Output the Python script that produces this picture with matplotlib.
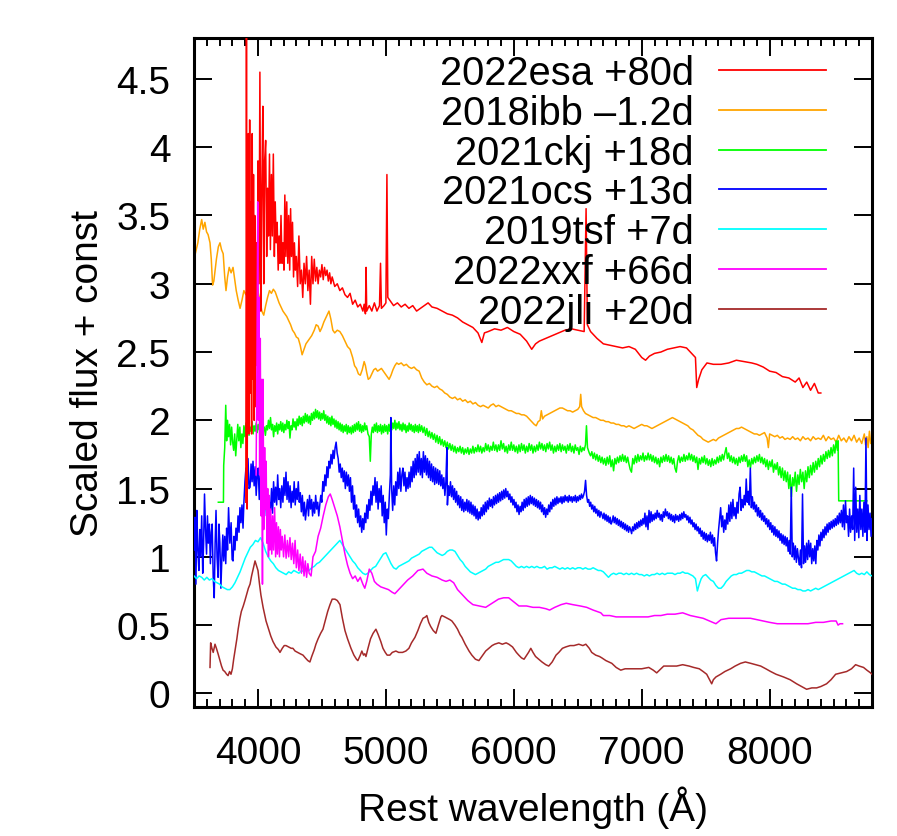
import numpy as np
import matplotlib
matplotlib.use("Agg")
import matplotlib.pyplot as plt
from matplotlib.ticker import MultipleLocator, FuncFormatter

# ---- spectra (rest wavelength in A, scaled flux + const) ----

esa_wl = [3905, 3910, 3915, 3920, 3925, 3930, 3935, 3940, 3945, 3950, 3955, 3960, 3965, 3970, 3975,
          3980, 3985, 3990, 3995, 4000, 4008, 4015, 4022, 4030, 4038, 4045, 4052, 4060, 4068, 4075,
          4082, 4090, 4097, 4105, 4112, 4120, 4128, 4135, 4142, 4150, 4158, 4165, 4172, 4180, 4188,
          4195, 4203, 4210, 4218, 4225, 4233, 4240, 4248, 4255, 4262, 4270, 4278, 4285, 4292, 4300,
          4310, 4320, 4330, 4340, 4350, 4360, 4370, 4380, 4390, 4400, 4410, 4420, 4430, 4440, 4450,
          4460, 4470, 4480, 4490, 4500, 4510, 4520, 4530, 4540, 4550, 4560, 4570, 4580, 4600, 4620,
          4640, 4660, 4680, 4700, 4720, 4740, 4760, 4780, 4800, 4820, 4830, 4840, 4845, 4850, 4870,
          4890, 4910, 4930, 4950, 4958, 4965, 4985, 5000, 5008, 5015, 5030, 5060, 5090, 5120, 5150,
          5180, 5210, 5240, 5270, 5300, 5330, 5360, 5400, 5440, 5480, 5520, 5560, 5600, 5640, 5680,
          5720, 5750, 5770, 5800, 5850, 5900, 5950, 6000, 6050, 6100, 6140, 6170, 6200, 6250, 6300,
          6350, 6400, 6450, 6500, 6550, 6565, 6575, 6600, 6650, 6700, 6750, 6800, 6850, 6900, 6950,
          7000, 7030, 7060, 7100, 7150, 7200, 7250, 7300, 7350, 7400, 7420, 7430, 7445, 7470, 7510,
          7560, 7620, 7680, 7740, 7800, 7860, 7900, 7950, 8000, 8050, 8100, 8150, 8200, 8230, 8260,
          8290, 8320, 8350, 8380, 8400]
esa_fx = [1.40, 4.90, 1.35, 3.00, 4.10, 1.90, 4.20, 2.20, 3.60, 1.90, 4.10, 2.30, 3.80, 2.00, 3.50,
          2.10, 2.90, 3.30, 2.40, 3.90, 3.00, 4.55, 2.80, 3.70, 4.30, 3.00, 3.90, 4.05, 3.20, 3.70,
          3.35, 3.95, 3.25, 3.80, 3.35, 3.95, 3.20, 3.60, 3.30, 3.45, 3.10, 3.35, 3.15, 3.50, 3.15,
          3.30, 3.10, 3.65, 3.20, 3.60, 3.15, 3.50, 3.10, 3.55, 3.20, 3.45, 3.05, 3.30, 3.10, 3.20,
          2.98, 3.35, 3.00, 3.10, 2.90, 3.15, 3.00, 3.20, 2.95, 3.10, 2.85, 3.20, 3.00, 3.18, 3.02,
          3.12, 3.00, 3.10, 3.05, 3.14, 3.03, 3.12, 3.06, 3.10, 3.02, 3.08, 3.00, 3.05, 2.98, 3.00,
          2.95, 2.97, 2.92, 2.90, 2.93, 2.85, 2.88, 2.83, 2.85, 2.80, 2.85, 2.78, 3.12, 2.80, 2.84,
          2.80, 2.86, 2.80, 2.84, 3.15, 2.82, 2.84, 2.86, 3.80, 2.90, 2.88, 2.84, 2.86, 2.83, 2.85,
          2.82, 2.84, 2.80, 2.82, 2.84, 2.86, 2.83, 2.82, 2.80, 2.78, 2.77, 2.75, 2.72, 2.70, 2.68,
          2.64, 2.57, 2.64, 2.65, 2.67, 2.66, 2.68, 2.65, 2.63, 2.58, 2.52, 2.56, 2.58, 2.60, 2.62,
          2.64, 2.66, 2.67, 2.66, 2.65, 3.55, 2.70, 2.65, 2.60, 2.56, 2.55, 2.54, 2.53, 2.54, 2.52,
          2.46, 2.44, 2.47, 2.49, 2.50, 2.52, 2.53, 2.54, 2.53, 2.48, 2.46, 2.24, 2.30, 2.37, 2.42,
          2.41, 2.41, 2.42, 2.44, 2.43, 2.42, 2.41, 2.39, 2.36, 2.35, 2.32, 2.31, 2.28, 2.31, 2.24,
          2.28, 2.22, 2.27, 2.20, 2.20]

ibb_wl = [3500, 3515, 3530, 3545, 3560, 3572, 3585, 3598, 3610, 3625, 3635, 3645, 3655, 3665, 3675,
          3690, 3703, 3715, 3728, 3740, 3750, 3762, 3775, 3790, 3805, 3818, 3830, 3845, 3860, 3875,
          3890, 3905, 3920, 3935, 3950, 3965, 3978, 3990, 4003, 4016, 4030, 4045, 4060, 4075, 4090,
          4105, 4120, 4135, 4150, 4165, 4180, 4195, 4210, 4225, 4240, 4255, 4270, 4285, 4300, 4315,
          4330, 4345, 4360, 4375, 4390, 4405, 4420, 4440, 4455, 4470, 4485, 4500, 4515, 4530, 4545,
          4555, 4570, 4585, 4600, 4620, 4640, 4660, 4680, 4700, 4720, 4740, 4755, 4770, 4785, 4800,
          4815, 4830, 4840, 4850, 4862, 4875, 4890, 4905, 4920, 4935, 4950, 4965, 4980, 4995, 5010,
          5025, 5040, 5055, 5070, 5085, 5100, 5120, 5140, 5160, 5180, 5200, 5220, 5240, 5260, 5280,
          5300, 5320, 5340, 5360, 5380, 5400, 5420, 5440, 5460, 5480, 5500, 5520, 5540, 5560, 5580,
          5600, 5620, 5640, 5660, 5680, 5700, 5720, 5740, 5760, 5780, 5800, 5820, 5840, 5860, 5880,
          5900, 5920, 5940, 5960, 5980, 6000, 6020, 6040, 6060, 6080, 6100, 6120, 6140, 6160, 6175,
          6190, 6205, 6215, 6225, 6240, 6260, 6280, 6300, 6320, 6340, 6360, 6380, 6400, 6420, 6440,
          6460, 6480, 6500, 6515, 6523, 6530, 6545, 6560, 6580, 6600, 6620, 6640, 6660, 6680, 6700,
          6720, 6740, 6760, 6780, 6800, 6820, 6840, 6860, 6880, 6900, 6920, 6940, 6960, 6980, 7000,
          7020, 7040, 7060, 7080, 7100, 7120, 7140, 7160, 7180, 7200, 7220, 7240, 7260, 7280, 7300,
          7320, 7340, 7360, 7380, 7400, 7420, 7440, 7460, 7480, 7500, 7520, 7540, 7560, 7580, 7600,
          7620, 7640, 7660, 7680, 7700, 7720, 7740, 7760, 7780, 7800, 7820, 7840, 7860, 7880, 7900,
          7920, 7940, 7960, 7980, 7990, 8000, 8020, 8040, 8060, 8080, 8100, 8120, 8140, 8160, 8180,
          8200, 8220, 8240, 8260, 8280, 8300, 8320, 8340, 8360, 8380, 8400, 8420, 8440, 8460, 8480,
          8500, 8520, 8540, 8560, 8580, 8600, 8620, 8640, 8660, 8680, 8700, 8720, 8740, 8750, 8760,
          8770, 8780, 8790, 8800]
ibb_fx = [3.18, 3.24, 3.30, 3.40, 3.47, 3.40, 3.45, 3.38, 3.36, 3.30, 3.18, 2.99, 3.02, 3.10, 3.18,
          3.27, 3.30, 3.25, 3.22, 3.05, 2.95, 3.05, 3.12, 3.08, 3.12, 3.03, 2.95, 2.88, 2.82, 2.88,
          2.95, 2.92, 2.97, 2.95, 3.00, 3.05, 3.09, 3.00, 2.93, 2.88, 2.80, 2.77, 2.84, 2.90, 2.95,
          2.93, 2.96, 2.94, 2.90, 2.86, 2.83, 2.80, 2.78, 2.76, 2.73, 2.70, 2.66, 2.64, 2.61, 2.60,
          2.55, 2.48, 2.52, 2.56, 2.58, 2.60, 2.62, 2.66, 2.70, 2.69, 2.65, 2.68, 2.72, 2.75, 2.78,
          2.80, 2.74, 2.66, 2.64, 2.66, 2.65, 2.62, 2.58, 2.54, 2.52, 2.46, 2.40, 2.38, 2.34, 2.33,
          2.37, 2.43, 2.40, 2.35, 2.30, 2.31, 2.34, 2.37, 2.38, 2.36, 2.37, 2.38, 2.36, 2.34, 2.32,
          2.30, 2.33, 2.37, 2.40, 2.42, 2.41, 2.42, 2.40, 2.41, 2.39, 2.38, 2.39, 2.37, 2.36, 2.31,
          2.28, 2.26, 2.27, 2.25, 2.24, 2.25, 2.23, 2.22, 2.20, 2.19, 2.17, 2.16, 2.17, 2.15, 2.16,
          2.14, 2.15, 2.13, 2.14, 2.12, 2.13, 2.11, 2.10, 2.11, 2.10, 2.09, 2.11, 2.12, 2.10, 2.11,
          2.10, 2.09, 2.08, 2.07, 2.07, 2.06, 2.05, 2.05, 2.04, 2.04, 2.03, 2.01, 1.99, 1.97, 1.96,
          1.99, 2.00, 2.07, 2.01, 2.03, 2.04, 2.05, 2.06, 2.07, 2.08, 2.09, 2.09, 2.08, 2.07, 2.07,
          2.06, 2.07, 2.08, 2.10, 2.19, 2.10, 2.07, 2.05, 2.04, 2.03, 2.02, 2.02, 2.01, 2.00, 2.00,
          1.99, 1.99, 1.98, 1.98, 1.97, 1.97, 1.96, 1.96, 1.95, 1.96, 1.95, 1.94, 1.95, 1.96, 1.97,
          1.96, 1.96, 1.95, 1.94, 1.95, 1.96, 1.97, 1.98, 1.99, 2.00, 2.01, 2.02, 2.01, 2.00, 1.99,
          1.98, 1.97, 1.96, 1.94, 1.93, 1.91, 1.89, 1.88, 1.86, 1.85, 1.84, 1.85, 1.86, 1.85, 1.87,
          1.88, 1.89, 1.90, 1.91, 1.92, 1.93, 1.94, 1.94, 1.95, 1.94, 1.93, 1.92, 1.91, 1.90, 1.90,
          1.89, 1.90, 1.91, 1.87, 1.80, 1.90, 1.89, 1.88, 1.89, 1.87, 1.88, 1.86, 1.87, 1.86, 1.88,
          1.86, 1.87, 1.85, 1.88, 1.86, 1.87, 1.85, 1.88, 1.86, 1.87, 1.86, 1.89, 1.85, 1.88, 1.86,
          1.87, 1.84, 1.89, 1.85, 1.87, 1.84, 1.88, 1.85, 1.89, 1.84, 1.87, 1.83, 1.90, 1.82, 1.88,
          1.80, 1.92, 1.83, 1.86]

ckj_wl = [3690, 3730, 3732, 3740, 3748, 3755, 3762, 3770, 3778, 3786, 3794, 3802, 3810, 3818, 3826,
          3834, 3842, 3850, 3858, 3866, 3874, 3882, 3890, 3898, 3906, 3914, 3922, 3930, 3938, 3946,
          3954, 3962, 3970, 3978, 3986, 3994, 4002, 4010, 4018, 4026, 4034, 4042, 4050, 4058, 4066,
          4074, 4082, 4090, 4098, 4106, 4114, 4122, 4130, 4138, 4146, 4154, 4162, 4170, 4178, 4186,
          4194, 4202, 4210, 4218, 4226, 4234, 4242, 4250, 4258, 4266, 4274, 4282, 4290, 4298, 4306,
          4314, 4322, 4330, 4338, 4346, 4354, 4362, 4370, 4378, 4386, 4394, 4402, 4410, 4418, 4426,
          4434, 4442, 4450, 4458, 4466, 4474, 4482, 4490, 4498, 4506, 4514, 4522, 4530, 4538, 4546,
          4554, 4562, 4570, 4578, 4586, 4594, 4602, 4610, 4618, 4626, 4634, 4642, 4650, 4658, 4666,
          4674, 4682, 4690, 4698, 4706, 4714, 4722, 4730, 4738, 4746, 4754, 4762, 4770, 4778, 4786,
          4794, 4802, 4810, 4818, 4826, 4834, 4842, 4850, 4860, 4870, 4878, 4886, 4894, 4902, 4910,
          4918, 4926, 4934, 4942, 4950, 4958, 4966, 4974, 4982, 4990, 4998, 5006, 5014, 5022, 5030,
          5038, 5046, 5054, 5062, 5070, 5078, 5086, 5094, 5102, 5110, 5118, 5126, 5134, 5142, 5150,
          5158, 5166, 5174, 5182, 5190, 5198, 5206, 5214, 5222, 5230, 5238, 5246, 5254, 5262, 5270,
          5280, 5290, 5300, 5310, 5320, 5330, 5340, 5350, 5360, 5370, 5380, 5390, 5400, 5410, 5420,
          5430, 5440, 5450, 5460, 5470, 5480, 5490, 5500, 5510, 5520, 5530, 5540, 5550, 5560, 5570,
          5580, 5590, 5600, 5610, 5620, 5630, 5640, 5650, 5660, 5670, 5680, 5690, 5700, 5710, 5720,
          5730, 5740, 5750, 5760, 5770, 5780, 5790, 5800, 5810, 5820, 5830, 5840, 5850, 5860, 5870,
          5880, 5890, 5900, 5910, 5920, 5930, 5940, 5950, 5960, 5970, 5980, 5990, 6000, 6010, 6020,
          6030, 6040, 6050, 6060, 6070, 6080, 6090, 6100, 6110, 6120, 6130, 6140, 6150, 6160, 6170,
          6180, 6190, 6200, 6210, 6220, 6230, 6240, 6250, 6260, 6270, 6280, 6290, 6300, 6310, 6320,
          6330, 6340, 6350, 6360, 6370, 6380, 6390, 6400, 6410, 6420, 6430, 6440, 6450, 6460, 6470,
          6480, 6490, 6500, 6510, 6520, 6530, 6540, 6550, 6560, 6568, 6576, 6590, 6600, 6610, 6620,
          6630, 6640, 6650, 6660, 6670, 6680, 6690, 6700, 6710, 6720, 6730, 6740, 6750, 6760, 6770,
          6780, 6790, 6800, 6810, 6820, 6830, 6840, 6850, 6860, 6870, 6880, 6890, 6900, 6910, 6920,
          6930, 6940, 6950, 6960, 6970, 6980, 6990, 7000, 7010, 7020, 7030, 7040, 7050, 7060, 7070,
          7080, 7090, 7100, 7110, 7120, 7130, 7140, 7150, 7160, 7170, 7180, 7190, 7200, 7210, 7220,
          7230, 7240, 7250, 7260, 7270, 7280, 7290, 7300, 7310, 7320, 7330, 7340, 7350, 7360, 7370,
          7380, 7390, 7400, 7410, 7420, 7430, 7440, 7450, 7460, 7470, 7480, 7490, 7500, 7510, 7520,
          7530, 7540, 7550, 7560, 7570, 7580, 7590, 7600, 7610, 7620, 7630, 7640, 7650, 7660, 7670,
          7680, 7690, 7700, 7710, 7720, 7730, 7740, 7750, 7760, 7770, 7780, 7790, 7800, 7810, 7820,
          7830, 7840, 7850, 7860, 7870, 7880, 7890, 7900, 7910, 7920, 7930, 7940, 7950, 7960, 7970,
          7980, 7990, 8000, 8010, 8020, 8030, 8040, 8050, 8060, 8070, 8080, 8090, 8100, 8110, 8120,
          8130, 8140, 8150, 8160, 8170, 8180, 8190, 8200, 8210, 8220, 8230, 8240, 8250, 8260, 8270,
          8280, 8290, 8300, 8310, 8320, 8330, 8340, 8350, 8360, 8370, 8380, 8390, 8400, 8410, 8420,
          8430, 8440, 8450, 8460, 8470, 8480, 8490, 8500, 8510, 8520, 8530, 8535, 8540, 8760]
ckj_fx = [1.40, 1.40, 1.67, 1.80, 2.11, 1.85, 2.00, 1.88, 1.97, 1.82, 1.95, 1.84, 1.78, 1.90, 1.74,
          1.86, 1.97, 1.85, 1.95, 1.80, 1.90, 1.83, 1.96, 1.88, 1.98, 1.90, 1.97, 1.89, 1.95, 1.92,
          1.99, 1.90, 1.96, 1.92, 1.98, 1.91, 1.97, 1.93, 1.96, 1.90, 1.98, 1.92, 1.95, 1.89, 1.96,
          1.93, 2.00, 1.94, 2.02, 1.93, 1.97, 1.88, 1.96, 1.92, 1.98, 1.90, 1.97, 1.93, 1.99, 1.92,
          1.98, 1.91, 1.97, 1.93, 2.00, 1.94, 1.99, 1.87, 1.96, 1.93, 2.01, 1.95, 1.99, 1.93, 2.01,
          1.96, 2.03, 1.97, 2.02, 1.96, 2.03, 1.98, 2.05, 1.99, 2.04, 1.98, 2.03, 1.97, 2.05, 2.00,
          2.06, 2.01, 2.08, 2.02, 2.07, 2.01, 2.06, 2.00, 2.05, 2.01, 2.07, 2.00, 2.04, 1.98, 2.03,
          1.97, 2.02, 1.96, 2.03, 1.97, 2.01, 1.95, 2.00, 1.94, 1.99, 1.93, 1.98, 1.92, 1.97, 1.91,
          1.96, 1.92, 1.97, 1.90, 1.96, 1.91, 1.95, 1.90, 1.96, 1.91, 1.97, 1.92, 1.98, 1.93, 1.99,
          1.92, 1.97, 1.91, 1.96, 1.92, 1.98, 1.93, 1.96, 1.90, 1.88, 1.70, 1.90, 1.95, 1.91, 1.97,
          1.92, 1.98, 1.91, 1.96, 1.92, 1.97, 1.90, 1.96, 1.91, 1.97, 1.92, 1.96, 1.90, 1.97, 1.92,
          1.99, 1.93, 1.98, 1.94, 2.00, 1.93, 1.98, 1.94, 1.99, 1.93, 1.97, 1.92, 1.98, 1.93, 1.97,
          1.91, 1.96, 1.92, 1.98, 1.93, 1.97, 1.92, 1.96, 1.91, 1.97, 1.92, 1.96, 1.91, 1.97, 1.92,
          1.96, 1.91, 1.95, 1.89, 1.94, 1.88, 1.92, 1.87, 1.91, 1.86, 1.90, 1.84, 1.89, 1.83, 1.88,
          1.82, 1.86, 1.81, 1.85, 1.80, 1.84, 1.79, 1.83, 1.78, 1.82, 1.77, 1.81, 1.76, 1.80, 1.77,
          1.81, 1.76, 1.80, 1.75, 1.79, 1.76, 1.80, 1.75, 1.79, 1.76, 1.81, 1.76, 1.80, 1.77, 1.82,
          1.77, 1.81, 1.76, 1.80, 1.77, 1.83, 1.78, 1.82, 1.77, 1.81, 1.78, 1.84, 1.78, 1.82, 1.77,
          1.82, 1.78, 1.85, 1.79, 1.83, 1.77, 1.81, 1.76, 1.82, 1.78, 1.84, 1.78, 1.82, 1.77, 1.81,
          1.76, 1.82, 1.77, 1.83, 1.78, 1.82, 1.76, 1.81, 1.77, 1.83, 1.78, 1.82, 1.76, 1.81, 1.77,
          1.82, 1.78, 1.84, 1.79, 1.83, 1.78, 1.82, 1.77, 1.83, 1.79, 1.84, 1.78, 1.82, 1.76, 1.81,
          1.77, 1.82, 1.78, 1.83, 1.77, 1.82, 1.78, 1.81, 1.76, 1.82, 1.78, 1.83, 1.77, 1.81, 1.76,
          1.82, 1.78, 1.80, 1.75, 1.81, 1.77, 1.80, 1.78, 1.82, 1.96, 1.80, 1.76, 1.74, 1.77, 1.72,
          1.76, 1.71, 1.75, 1.70, 1.74, 1.69, 1.73, 1.68, 1.72, 1.67, 1.73, 1.68, 1.74, 1.66, 1.71,
          1.63, 1.72, 1.68, 1.73, 1.69, 1.74, 1.70, 1.75, 1.70, 1.74, 1.69, 1.73, 1.68, 1.64, 1.62,
          1.72, 1.68, 1.74, 1.69, 1.75, 1.70, 1.74, 1.71, 1.76, 1.70, 1.74, 1.71, 1.76, 1.71, 1.75,
          1.70, 1.74, 1.69, 1.73, 1.68, 1.72, 1.66, 1.73, 1.69, 1.74, 1.70, 1.75, 1.70, 1.74, 1.69,
          1.73, 1.68, 1.72, 1.65, 1.62, 1.70, 1.74, 1.69, 1.73, 1.70, 1.75, 1.70, 1.74, 1.71, 1.76,
          1.71, 1.75, 1.70, 1.74, 1.69, 1.73, 1.64, 1.72, 1.68, 1.73, 1.69, 1.74, 1.68, 1.72, 1.67,
          1.71, 1.66, 1.72, 1.67, 1.71, 1.68, 1.73, 1.69, 1.74, 1.70, 1.75, 1.71, 1.76, 1.80, 1.72,
          1.76, 1.70, 1.74, 1.69, 1.73, 1.68, 1.72, 1.67, 1.73, 1.69, 1.74, 1.70, 1.75, 1.70, 1.74,
          1.66, 1.71, 1.65, 1.72, 1.68, 1.73, 1.69, 1.74, 1.70, 1.75, 1.69, 1.73, 1.68, 1.72, 1.66,
          1.71, 1.64, 1.70, 1.66, 1.71, 1.62, 1.68, 1.64, 1.69, 1.60, 1.66, 1.58, 1.65, 1.56, 1.63,
          1.55, 1.62, 1.50, 1.60, 1.44, 1.58, 1.52, 1.62, 1.48, 1.60, 1.53, 1.64, 1.55, 1.62, 1.50,
          1.63, 1.55, 1.66, 1.58, 1.67, 1.60, 1.69, 1.62, 1.70, 1.64, 1.72, 1.66, 1.74, 1.68, 1.75,
          1.70, 1.77, 1.72, 1.78, 1.73, 1.80, 1.74, 1.82, 1.76, 1.85, 1.78, 1.85, 1.41, 1.41]

ocs_wl = [3500, 3508, 3515, 3522, 3530, 3538, 3545, 3552, 3560, 3568, 3575, 3582, 3590, 3598, 3605,
          3612, 3620, 3628, 3635, 3642, 3650, 3658, 3665, 3672, 3680, 3688, 3695, 3702, 3710, 3718,
          3725, 3732, 3740, 3748, 3755, 3762, 3770, 3780, 3790, 3798, 3805, 3812, 3820, 3828, 3836,
          3844, 3852, 3859, 3867, 3875, 3883, 3890, 3898, 3906, 3914, 3922, 3930, 3938, 3946, 3954,
          3961, 3970, 3978, 3986, 3994, 4002, 4010, 4018, 4026, 4034, 4042, 4050, 4058, 4066, 4074,
          4082, 4090, 4098, 4106, 4114, 4122, 4130, 4138, 4146, 4154, 4162, 4170, 4178, 4186, 4195,
          4203, 4211, 4219, 4227, 4235, 4243, 4251, 4259, 4267, 4275, 4283, 4291, 4299, 4307, 4315,
          4323, 4331, 4339, 4347, 4355, 4363, 4371, 4379, 4387, 4395, 4403, 4411, 4419, 4427, 4435,
          4443, 4451, 4459, 4467, 4475, 4483, 4491, 4499, 4507, 4515, 4523, 4531, 4539, 4547, 4555,
          4563, 4571, 4579, 4587, 4595, 4603, 4611, 4619, 4627, 4635, 4643, 4651, 4659, 4667, 4675,
          4683, 4691, 4699, 4707, 4715, 4723, 4731, 4739, 4747, 4755, 4763, 4771, 4779, 4787, 4795,
          4803, 4811, 4819, 4827, 4835, 4843, 4851, 4859, 4867, 4875, 4883, 4891, 4899, 4907, 4915,
          4923, 4931, 4939, 4947, 4955, 4963, 4971, 4979, 4987, 4995, 5003, 5011, 5019, 5027, 5035,
          5039, 5045, 5053, 5061, 5069, 5077, 5085, 5093, 5101, 5109, 5117, 5125, 5133, 5141, 5149,
          5157, 5165, 5173, 5181, 5189, 5197, 5205, 5213, 5221, 5229, 5237, 5245, 5253, 5261, 5269,
          5277, 5285, 5293, 5301, 5309, 5317, 5325, 5333, 5341, 5349, 5357, 5365, 5373, 5381, 5389,
          5397, 5405, 5413, 5421, 5429, 5437, 5445, 5453, 5461, 5469, 5477, 5481, 5489, 5497, 5505,
          5513, 5521, 5529, 5537, 5545, 5553, 5561, 5569, 5577, 5585, 5593, 5601, 5609, 5617, 5625,
          5633, 5641, 5649, 5657, 5665, 5673, 5681, 5689, 5697, 5705, 5713, 5721, 5729, 5737, 5745,
          5753, 5761, 5769, 5777, 5785, 5793, 5801, 5809, 5817, 5825, 5833, 5841, 5849, 5857, 5865,
          5873, 5881, 5889, 5897, 5905, 5913, 5921, 5929, 5937, 5945, 5953, 5961, 5969, 5977, 5985,
          5993, 6001, 6009, 6017, 6025, 6033, 6041, 6049, 6057, 6065, 6073, 6081, 6089, 6097, 6105,
          6113, 6121, 6129, 6137, 6145, 6153, 6161, 6169, 6177, 6185, 6193, 6201, 6209, 6217, 6225,
          6233, 6241, 6249, 6257, 6265, 6273, 6281, 6289, 6297, 6305, 6313, 6321, 6329, 6337, 6345,
          6353, 6361, 6369, 6377, 6385, 6393, 6401, 6409, 6417, 6425, 6433, 6441, 6449, 6457, 6465,
          6473, 6481, 6489, 6497, 6505, 6513, 6521, 6529, 6537, 6545, 6553, 6561, 6569, 6577, 6585,
          6593, 6601, 6609, 6617, 6625, 6633, 6641, 6649, 6657, 6665, 6673, 6681, 6689, 6697, 6705,
          6713, 6721, 6729, 6737, 6745, 6753, 6761, 6769, 6777, 6785, 6793, 6801, 6809, 6817, 6825,
          6833, 6841, 6849, 6857, 6865, 6873, 6881, 6889, 6897, 6905, 6913, 6921, 6929, 6937, 6945,
          6953, 6961, 6969, 6977, 6985, 6993, 7001, 7009, 7017, 7025, 7033, 7041, 7049, 7057, 7065,
          7073, 7081, 7089, 7097, 7105, 7113, 7121, 7129, 7137, 7145, 7153, 7161, 7169, 7177, 7185,
          7193, 7201, 7209, 7217, 7225, 7233, 7241, 7249, 7257, 7265, 7273, 7281, 7289, 7297, 7305,
          7313, 7321, 7329, 7337, 7345, 7353, 7361, 7369, 7377, 7385, 7393, 7401, 7409, 7417, 7425,
          7433, 7441, 7449, 7457, 7465, 7473, 7481, 7489, 7497, 7505, 7513, 7521, 7529, 7537, 7545,
          7553, 7561, 7569, 7577, 7585, 7593, 7601, 7609, 7617, 7625, 7633, 7641, 7649, 7657, 7665,
          7673, 7681, 7689, 7697, 7705, 7713, 7721, 7729, 7737, 7745, 7753, 7761, 7769, 7777, 7785,
          7793, 7801, 7809, 7817, 7825, 7833, 7841, 7849, 7857, 7865, 7873, 7881, 7889, 7897, 7905,
          7913, 7921, 7929, 7937, 7945, 7953, 7961, 7969, 7977, 7985, 7993, 8001, 8009, 8017, 8025,
          8033, 8041, 8049, 8057, 8065, 8073, 8081, 8089, 8097, 8105, 8113, 8121, 8129, 8137, 8145,
          8153, 8161, 8169, 8177, 8185, 8193, 8201, 8209, 8217, 8225, 8233, 8241, 8249, 8257, 8265,
          8273, 8281, 8289, 8297, 8305, 8313, 8321, 8329, 8337, 8345, 8353, 8361, 8369, 8377, 8385,
          8393, 8401, 8409, 8417, 8425, 8433, 8441, 8449, 8457, 8465, 8473, 8481, 8489, 8497, 8505,
          8513, 8521, 8529, 8537, 8545, 8553, 8561, 8569, 8577, 8585, 8593, 8601, 8609, 8617, 8625,
          8633, 8641, 8649, 8657, 8665, 8673, 8681, 8689, 8697, 8705, 8713, 8721, 8729, 8737, 8745,
          8753, 8761, 8769, 8777, 8785, 8793, 8800]
ocs_fx = [1.05, 1.29, 0.80, 1.34, 1.05, 0.90, 1.20, 1.00, 1.30, 0.88, 1.10, 1.46, 1.20, 1.02, 1.30,
          1.10, 1.24, 0.95, 1.18, 1.24, 0.85, 0.70, 1.10, 1.34, 1.00, 0.85, 1.24, 1.10, 0.77, 1.00,
          1.16, 0.97, 1.15, 0.95, 1.21, 1.05, 1.36, 1.10, 1.25, 0.98, 0.97, 1.15, 1.05, 1.21, 1.12,
          1.30, 1.18, 1.36, 1.25, 1.38, 1.21, 1.40, 1.55, 1.65, 1.45, 1.72, 1.50, 1.51, 1.68, 1.55,
          1.70, 1.52, 1.66, 1.45, 1.60, 1.65, 1.42, 1.60, 1.38, 1.55, 1.46, 1.35, 1.52, 1.30, 1.45,
          1.28, 1.40, 1.34, 1.50, 1.32, 1.55, 1.40, 1.51, 1.38, 1.60, 1.42, 1.50, 1.36, 1.52, 1.40,
          1.58, 1.45, 1.62, 1.42, 1.55, 1.40, 1.52, 1.36, 1.48, 1.40, 1.55, 1.38, 1.50, 1.42, 1.55,
          1.40, 1.47, 1.33, 1.45, 1.30, 1.40, 1.27, 1.35, 1.42, 1.30, 1.45, 1.35, 1.42, 1.30, 1.40,
          1.32, 1.45, 1.35, 1.40, 1.30, 1.38, 1.45, 1.40, 1.55, 1.48, 1.60, 1.52, 1.66, 1.58, 1.70,
          1.65, 1.75, 1.68, 1.78, 1.72, 1.80, 1.84, 1.76, 1.72, 1.62, 1.68, 1.58, 1.65, 1.55, 1.63,
          1.50, 1.62, 1.52, 1.60, 1.48, 1.58, 1.40, 1.52, 1.35, 1.45, 1.29, 1.38, 1.25, 1.35, 1.22,
          1.30, 1.18, 1.28, 1.20, 1.32, 1.25, 1.38, 1.28, 1.42, 1.34, 1.48, 1.38, 1.52, 1.45, 1.58,
          1.40, 1.55, 1.35, 1.50, 1.40, 1.52, 1.30, 1.45, 1.25, 1.40, 1.16, 1.35, 1.28, 1.45, 1.60,
          2.02, 1.50, 1.34, 1.52, 1.38, 1.55, 1.45, 1.62, 1.50, 1.65, 1.48, 1.60, 1.65, 1.52, 1.62,
          1.48, 1.58, 1.50, 1.62, 1.51, 1.66, 1.55, 1.70, 1.58, 1.72, 1.60, 1.75, 1.62, 1.77, 1.60,
          1.72, 1.58, 1.77, 1.62, 1.74, 1.60, 1.72, 1.58, 1.70, 1.56, 1.68, 1.55, 1.66, 1.53, 1.65,
          1.54, 1.64, 1.53, 1.63, 1.52, 1.60, 1.50, 1.58, 1.45, 1.55, 1.80, 1.38, 1.52, 1.45, 1.55,
          1.44, 1.52, 1.42, 1.50, 1.40, 1.48, 1.38, 1.45, 1.36, 1.44, 1.34, 1.42, 1.33, 1.40, 1.34,
          1.42, 1.33, 1.41, 1.32, 1.40, 1.31, 1.38, 1.30, 1.37, 1.28, 1.35, 1.27, 1.33, 1.28, 1.36,
          1.30, 1.38, 1.31, 1.40, 1.33, 1.41, 1.35, 1.43, 1.37, 1.42, 1.36, 1.44, 1.38, 1.45, 1.39,
          1.46, 1.40, 1.47, 1.41, 1.48, 1.42, 1.49, 1.43, 1.50, 1.44, 1.48, 1.42, 1.46, 1.40, 1.44,
          1.38, 1.42, 1.36, 1.40, 1.33, 1.38, 1.31, 1.37, 1.33, 1.40, 1.34, 1.42, 1.36, 1.43, 1.37,
          1.44, 1.38, 1.45, 1.39, 1.44, 1.38, 1.43, 1.37, 1.42, 1.36, 1.41, 1.35, 1.40, 1.33, 1.38,
          1.31, 1.36, 1.29, 1.35, 1.31, 1.38, 1.33, 1.40, 1.35, 1.42, 1.37, 1.43, 1.38, 1.44, 1.39,
          1.43, 1.40, 1.44, 1.39, 1.44, 1.40, 1.45, 1.41, 1.44, 1.40, 1.45, 1.41, 1.44, 1.40, 1.44,
          1.41, 1.45, 1.40, 1.44, 1.41, 1.45, 1.42, 1.46, 1.43, 1.45, 1.48, 1.56, 1.45, 1.40, 1.42,
          1.37, 1.40, 1.35, 1.38, 1.33, 1.37, 1.32, 1.35, 1.30, 1.34, 1.29, 1.33, 1.31, 1.28, 1.32,
          1.27, 1.31, 1.26, 1.30, 1.25, 1.29, 1.24, 1.26, 1.30, 1.25, 1.29, 1.24, 1.28, 1.23, 1.27,
          1.22, 1.26, 1.21, 1.25, 1.20, 1.24, 1.19, 1.23, 1.18, 1.22, 1.20, 1.17, 1.22, 1.19, 1.24,
          1.20, 1.25, 1.21, 1.26, 1.22, 1.27, 1.23, 1.28, 1.24, 1.32, 1.22, 1.30, 1.20, 1.34, 1.25,
          1.33, 1.26, 1.31, 1.27, 1.32, 1.28, 1.34, 1.29, 1.32, 1.27, 1.31, 1.26, 1.33, 1.29, 1.35,
          1.30, 1.33, 1.28, 1.32, 1.27, 1.31, 1.26, 1.30, 1.25, 1.31, 1.27, 1.30, 1.26, 1.31, 1.27,
          1.32, 1.28, 1.33, 1.29, 1.31, 1.27, 1.30, 1.25, 1.29, 1.24, 1.27, 1.22, 1.25, 1.20, 1.24,
          1.19, 1.22, 1.17, 1.21, 1.15, 1.19, 1.13, 1.18, 1.12, 1.17, 1.11, 1.16, 1.12, 1.18, 1.10,
          1.16, 1.08, 1.14, 1.03, 0.97, 1.10, 1.20, 1.28, 1.36, 1.22, 1.30, 1.18, 1.27, 1.20, 1.32,
          1.24, 1.38, 1.26, 1.40, 1.28, 1.42, 1.30, 1.36, 1.28, 1.40, 1.32, 1.46, 1.51, 1.34, 1.42,
          1.36, 1.45, 1.38, 1.57, 1.40, 1.48, 1.38, 1.65, 1.36, 1.44, 1.35, 1.40, 1.33, 1.38, 1.30,
          1.36, 1.29, 1.34, 1.27, 1.32, 1.26, 1.30, 1.24, 1.28, 1.22, 1.27, 1.20, 1.25, 1.18, 1.23,
          1.16, 1.22, 1.15, 1.20, 1.14, 1.19, 1.12, 1.17, 1.10, 1.16, 1.09, 1.15, 1.08, 1.14, 1.04,
          1.12, 1.02, 1.51, 1.00, 1.10, 0.98, 1.08, 0.96, 1.06, 0.99, 0.94, 1.05, 0.92, 1.46, 0.95,
          1.08, 0.96, 1.10, 0.98, 1.12, 1.00, 1.10, 0.95, 1.06, 0.97, 1.08, 0.95, 1.12, 1.05, 1.16,
          1.08, 1.18, 1.12, 1.20, 1.14, 1.22, 1.16, 1.24, 1.18, 1.25, 1.20, 1.26, 1.21, 1.27, 1.22,
          1.28, 1.23, 1.30, 1.24, 1.32, 1.25, 1.34, 1.22, 1.38, 1.20, 1.41, 1.25, 1.30, 1.15, 1.35,
          1.18, 1.30, 1.20, 1.65, 1.12, 1.51, 1.18, 1.35, 1.14, 1.45, 1.20, 1.35, 1.15, 1.40, 1.18,
          1.87, 1.12, 1.38, 1.20, 1.32, 1.15, 1.28]

tsf_wl = [3500, 3520, 3540, 3560, 3580, 3600, 3620, 3640, 3660, 3680, 3700, 3720, 3740, 3760, 3780,
          3800, 3820, 3840, 3860, 3880, 3900, 3920, 3940, 3960, 3980, 4000, 4020, 4040, 4060, 4080,
          4100, 4120, 4140, 4160, 4180, 4200, 4220, 4240, 4260, 4280, 4300, 4320, 4340, 4360, 4380,
          4400, 4420, 4440, 4460, 4480, 4500, 4520, 4540, 4560, 4580, 4600, 4620, 4640, 4660, 4680,
          4700, 4720, 4740, 4760, 4780, 4800, 4820, 4840, 4860, 4880, 4900, 4920, 4940, 4960, 4980,
          5000, 5020, 5040, 5060, 5080, 5100, 5120, 5140, 5160, 5180, 5200, 5220, 5240, 5260, 5280,
          5300, 5320, 5340, 5360, 5380, 5400, 5420, 5440, 5460, 5480, 5500, 5520, 5540, 5560, 5580,
          5600, 5620, 5640, 5660, 5680, 5700, 5720, 5740, 5760, 5780, 5800, 5820, 5840, 5860, 5880,
          5900, 5920, 5940, 5960, 5980, 6000, 6020, 6040, 6060, 6080, 6100, 6120, 6140, 6160, 6180,
          6200, 6220, 6240, 6260, 6280, 6300, 6320, 6340, 6360, 6380, 6400, 6420, 6440, 6460, 6480,
          6500, 6520, 6540, 6560, 6580, 6600, 6620, 6640, 6660, 6680, 6700, 6720, 6740, 6760, 6780,
          6800, 6820, 6840, 6860, 6880, 6900, 6920, 6940, 6960, 6980, 7000, 7020, 7040, 7060, 7080,
          7100, 7120, 7140, 7160, 7180, 7200, 7220, 7240, 7260, 7280, 7300, 7320, 7340, 7360, 7380,
          7400, 7420, 7435, 7450, 7465, 7480, 7500, 7520, 7540, 7560, 7580, 7600, 7620, 7640, 7660,
          7680, 7700, 7720, 7740, 7760, 7780, 7800, 7820, 7840, 7860, 7880, 7900, 7920, 7940, 7960,
          7980, 8000, 8020, 8040, 8060, 8080, 8100, 8120, 8140, 8160, 8180, 8200, 8220, 8240, 8260,
          8280, 8300, 8320, 8340, 8360, 8380, 8400, 8420, 8440, 8460, 8480, 8500, 8520, 8540, 8560,
          8580, 8600, 8620, 8640, 8660, 8680, 8700, 8720, 8740, 8760, 8780, 8800]
tsf_fx = [0.86, 0.84, 0.86, 0.85, 0.83, 0.85, 0.83, 0.84, 0.82, 0.81, 0.80, 0.78, 0.77, 0.76, 0.76,
          0.78, 0.81, 0.85, 0.89, 0.94, 0.99, 1.03, 1.07, 1.09, 1.12, 1.11, 1.14, 1.10, 1.04, 1.00,
          0.97, 0.95, 0.92, 0.90, 0.89, 0.88, 0.87, 0.89, 0.88, 0.90, 0.89, 0.88, 0.90, 0.89, 0.91,
          0.90, 0.92, 0.93, 0.95, 0.96, 0.98, 1.00, 1.02, 1.04, 1.06, 1.08, 1.10, 1.12, 1.09, 1.06,
          1.03, 1.00, 0.97, 0.95, 0.92, 0.90, 0.88, 0.87, 0.88, 0.90, 0.92, 0.93, 0.96, 0.99, 1.02,
          1.03, 0.99, 0.95, 0.92, 0.91, 0.93, 0.94, 0.95, 0.96, 0.97, 0.99, 1.00, 1.01, 1.02, 1.04,
          1.05, 1.06, 1.07, 1.07, 1.05, 1.03, 1.02, 1.01, 1.02, 1.04, 1.05, 1.05, 1.04, 1.01, 0.98,
          0.96, 0.93, 0.91, 0.89, 0.88, 0.87, 0.88, 0.89, 0.90, 0.91, 0.93, 0.94, 0.95, 0.96, 0.96,
          0.97, 0.98, 0.98, 0.98, 0.97, 0.95, 0.93, 0.92, 0.93, 0.92, 0.93, 0.92, 0.93, 0.92, 0.93,
          0.92, 0.92, 0.93, 0.91, 0.92, 0.92, 0.93, 0.92, 0.91, 0.92, 0.91, 0.92, 0.91, 0.92, 0.91,
          0.92, 0.92, 0.91, 0.92, 0.91, 0.91, 0.92, 0.91, 0.90, 0.90, 0.89, 0.87, 0.85, 0.87, 0.88,
          0.87, 0.88, 0.88, 0.87, 0.88, 0.87, 0.88, 0.87, 0.88, 0.87, 0.87, 0.86, 0.87, 0.86, 0.87,
          0.87, 0.88, 0.87, 0.88, 0.87, 0.88, 0.88, 0.88, 0.87, 0.88, 0.88, 0.89, 0.88, 0.88, 0.87,
          0.86, 0.84, 0.75, 0.80, 0.84, 0.86, 0.87, 0.85, 0.83, 0.82, 0.79, 0.77, 0.77, 0.79, 0.82,
          0.84, 0.86, 0.87, 0.87, 0.88, 0.88, 0.89, 0.90, 0.90, 0.89, 0.89, 0.88, 0.87, 0.86, 0.86,
          0.85, 0.84, 0.83, 0.82, 0.82, 0.81, 0.80, 0.80, 0.79, 0.78, 0.77, 0.77, 0.76, 0.76, 0.75,
          0.75, 0.76, 0.75, 0.76, 0.77, 0.76, 0.77, 0.78, 0.79, 0.80, 0.81, 0.82, 0.83, 0.84, 0.85,
          0.86, 0.87, 0.88, 0.89, 0.90, 0.88, 0.87, 0.88, 0.87, 0.89, 0.87, 0.86]

xxf_wl = [3985, 3992, 3998, 4003, 4008, 4013, 4018, 4024, 4030, 4035, 4040, 4045, 4052, 4058, 4064,
          4070, 4076, 4082, 4088, 4094, 4100, 4108, 4115, 4122, 4130, 4138, 4145, 4152, 4160, 4168,
          4175, 4182, 4190, 4200, 4210, 4220, 4230, 4240, 4250, 4260, 4270, 4280, 4290, 4300, 4310,
          4320, 4330, 4340, 4350, 4360, 4370, 4380, 4390, 4400, 4415, 4430, 4450, 4470, 4490, 4510,
          4530, 4550, 4565, 4580, 4600, 4620, 4640, 4660, 4680, 4700, 4720, 4740, 4760, 4780, 4800,
          4820, 4835, 4850, 4870, 4890, 4910, 4930, 4960, 4990, 5020, 5050, 5070, 5100, 5130, 5170,
          5210, 5250, 5290, 5320, 5360, 5400, 5440, 5470, 5500, 5530, 5560, 5600, 5640, 5680, 5730,
          5780, 5830, 5880, 5920, 5960, 6000, 6040, 6100, 6150, 6200, 6250, 6280, 6320, 6370, 6410,
          6460, 6520, 6570, 6620, 6680, 6700, 6750, 6800, 6850, 6900, 6950, 7000, 7050, 7100, 7150,
          7200, 7260, 7320, 7380, 7430, 7480, 7530, 7580, 7620, 7680, 7740, 7800, 7850, 7900, 7950,
          8000, 8060, 8120, 8180, 8240, 8300, 8360, 8420, 8480, 8520, 8535, 8550, 8570]
xxf_fx = [1.60, 2.40, 3.60, 2.00, 2.90, 1.60, 2.60, 1.30, 2.30, 0.80, 2.30, 1.20, 1.80, 1.35, 1.70,
          1.10, 1.50, 1.00, 1.45, 1.05, 1.35, 1.02, 1.30, 1.05, 1.36, 1.00, 1.25, 1.02, 1.22, 1.00,
          1.20, 1.05, 1.15, 1.00, 1.16, 0.99, 1.12, 1.00, 1.14, 0.98, 1.10, 0.95, 1.12, 0.92, 1.05,
          0.90, 1.02, 0.88, 1.00, 0.86, 0.97, 0.85, 0.95, 0.88, 0.86, 1.00, 1.04, 1.15, 1.21, 1.30,
          1.38, 1.44, 1.46, 1.42, 1.36, 1.30, 1.22, 1.12, 1.02, 0.94, 0.88, 0.84, 0.86, 0.82, 0.85,
          0.80, 0.77, 0.82, 0.91, 0.88, 0.82, 0.80, 0.78, 0.77, 0.76, 0.74, 0.73, 0.76, 0.79, 0.83,
          0.86, 0.90, 0.91, 0.88, 0.86, 0.85, 0.83, 0.82, 0.83, 0.81, 0.76, 0.72, 0.68, 0.65, 0.64,
          0.63, 0.66, 0.69, 0.70, 0.70, 0.67, 0.64, 0.64, 0.63, 0.63, 0.62, 0.61, 0.63, 0.65, 0.66,
          0.65, 0.64, 0.63, 0.61, 0.59, 0.57, 0.57, 0.56, 0.56, 0.56, 0.56, 0.56, 0.56, 0.57, 0.57,
          0.58, 0.58, 0.59, 0.57, 0.56, 0.55, 0.53, 0.51, 0.54, 0.55, 0.55, 0.55, 0.55, 0.54, 0.53,
          0.52, 0.51, 0.51, 0.51, 0.51, 0.51, 0.52, 0.52, 0.53, 0.53, 0.50, 0.51, 0.51]

jli_wl = [3625, 3630, 3640, 3650, 3664, 3675, 3688, 3700, 3715, 3727, 3740, 3755, 3766, 3778, 3789,
          3800, 3810, 3820, 3835, 3845, 3859, 3870, 3885, 3898, 3910, 3925, 3938, 3950, 3962, 3977,
          3990, 4000, 4012, 4023, 4040, 4063, 4080, 4100, 4117, 4140, 4160, 4172, 4190, 4205, 4219,
          4240, 4260, 4273, 4290, 4310, 4330, 4352, 4370, 4390, 4406, 4420, 4440, 4453, 4470, 4490,
          4508, 4525, 4545, 4563, 4580, 4602, 4620, 4641, 4660, 4680, 4700, 4727, 4750, 4770, 4781,
          4800, 4812, 4825, 4835, 4844, 4860, 4880, 4900, 4922, 4940, 4960, 4977, 4995, 5010, 5031,
          5050, 5078, 5100, 5130, 5156, 5180, 5200, 5227, 5250, 5270, 5290, 5310, 5320, 5335, 5350,
          5370, 5391, 5410, 5430, 5438, 5460, 5480, 5500, 5516, 5540, 5560, 5580, 5594, 5620, 5650,
          5672, 5700, 5727, 5750, 5780, 5805, 5830, 5850, 5883, 5910, 5940, 5961, 5990, 6020, 6039,
          6060, 6080, 6094, 6115, 6133, 6150, 6170, 6195, 6220, 6250, 6273, 6300, 6330, 6352, 6380,
          6406, 6440, 6470, 6508, 6540, 6563, 6590, 6609, 6640, 6670, 6688, 6720, 6766, 6800, 6836,
          6870, 6900, 6953, 7000, 7055, 7090, 7117, 7150, 7172, 7220, 7273, 7320, 7370, 7406, 7450,
          7480, 7508, 7530, 7547, 7560, 7580, 7617, 7650, 7695, 7730, 7773, 7810, 7852, 7890, 7930,
          7970, 8008, 8050, 8109, 8160, 8211, 8250, 8289, 8330, 8367, 8400, 8445, 8480, 8516, 8560,
          8602, 8640, 8672, 8700, 8734, 8760, 8789, 8800]
jli_fx = [0.19, 0.37, 0.33, 0.30, 0.36, 0.33, 0.29, 0.25, 0.20, 0.17, 0.16, 0.14, 0.13, 0.16, 0.14,
          0.18, 0.25, 0.31, 0.40, 0.47, 0.55, 0.60, 0.64, 0.68, 0.72, 0.77, 0.80, 0.86, 0.91, 0.97,
          0.93, 0.90, 0.80, 0.72, 0.63, 0.53, 0.48, 0.42, 0.38, 0.34, 0.32, 0.30, 0.33, 0.35, 0.35,
          0.34, 0.33, 0.33, 0.31, 0.30, 0.29, 0.28, 0.26, 0.24, 0.23, 0.27, 0.32, 0.36, 0.40, 0.44,
          0.47, 0.53, 0.60, 0.65, 0.69, 0.69, 0.68, 0.65, 0.55, 0.46, 0.40, 0.33, 0.28, 0.25, 0.24,
          0.28, 0.31, 0.28, 0.29, 0.27, 0.33, 0.40, 0.44, 0.47, 0.43, 0.38, 0.33, 0.30, 0.28, 0.28,
          0.30, 0.31, 0.30, 0.30, 0.31, 0.33, 0.37, 0.41, 0.46, 0.51, 0.55, 0.56, 0.57, 0.52, 0.49,
          0.46, 0.44, 0.50, 0.56, 0.57, 0.56, 0.55, 0.54, 0.53, 0.50, 0.47, 0.43, 0.41, 0.36, 0.31,
          0.28, 0.25, 0.24, 0.27, 0.31, 0.33, 0.35, 0.36, 0.37, 0.36, 0.37, 0.36, 0.34, 0.30, 0.28,
          0.26, 0.25, 0.27, 0.30, 0.33, 0.30, 0.27, 0.25, 0.23, 0.21, 0.20, 0.23, 0.28, 0.30, 0.33,
          0.34, 0.35, 0.35, 0.36, 0.35, 0.36, 0.33, 0.30, 0.28, 0.27, 0.26, 0.24, 0.22, 0.19, 0.17,
          0.18, 0.18, 0.18, 0.18, 0.19, 0.17, 0.15, 0.18, 0.20, 0.20, 0.20, 0.21, 0.20, 0.19, 0.18,
          0.16, 0.14, 0.10, 0.07, 0.10, 0.12, 0.14, 0.16, 0.18, 0.20, 0.22, 0.23, 0.22, 0.21, 0.20,
          0.18, 0.16, 0.14, 0.12, 0.10, 0.07, 0.05, 0.03, 0.04, 0.04, 0.05, 0.07, 0.10, 0.14, 0.15,
          0.16, 0.18, 0.21, 0.20, 0.19, 0.17, 0.15, 0.14]

labels = ["2022esa +80d", "2018ibb \u20131.2d", "2021ckj +18d", "2021ocs +13d",
          "2019tsf +7d", "2022xxf +66d", "2022jli +20d"]
colors = ["#ff0000", "#ffa500", "#00ff00", "#0000ff", "#00ffff", "#ff00ff", "#a52a2a"]
zorders = [5, 1, 2, 3, 4, 6, 7]

series = [(esa_wl, esa_fx), (ibb_wl, ibb_fx), (ckj_wl, ckj_fx), (ocs_wl, ocs_fx),
          (tsf_wl, tsf_fx), (xxf_wl, xxf_fx), (jli_wl, jli_fx)]

plt.rcParams['font.family'] = ['Liberation Sans', 'DejaVu Sans']
plt.rcParams['font.size'] = 28

fig = plt.figure(figsize=(8.97, 8.37), dpi=100)
ax = fig.add_axes([0.2163, 0.1541, 0.7558, 0.7993])

for (wl, fx), lab, col, zo in zip(series, labels, colors, zorders):
    ax.plot(wl, fx, color=col, lw=1.1, label=lab, zorder=zo)

ax.set_xlim(3500, 8800)
ax.set_ylim(-0.1, 4.8)

ax.xaxis.set_major_locator(MultipleLocator(1000))
ax.xaxis.set_minor_locator(MultipleLocator(100))
ax.yaxis.set_major_locator(MultipleLocator(0.5))
ax.yaxis.set_major_formatter(FuncFormatter(lambda v, p: "%g" % v))
ax.xaxis.set_major_formatter(FuncFormatter(lambda v, p: "%g" % v))

ax.tick_params(which='both', direction='in', top=True, right=True, width=1.4)
ax.tick_params(which='major', length=13)
ax.tick_params(which='minor', length=6)
ax.tick_params(axis='y', pad=17)
ax.tick_params(axis='x', pad=20)
for sp in ax.spines.values():
    sp.set_linewidth(2.2)

ax.set_xlabel("Rest wavelength (\u00c5)", va='center')
ax.set_ylabel("Scaled flux + const", va='center')
ax.xaxis.set_label_coords(0.5, -0.1495)
ax.yaxis.set_label_coords(-0.156, 0.5)

leg = ax.legend(loc='upper right', bbox_to_anchor=(0.955, 1.0), markerfirst=False,
                frameon=False, handlelength=2.66, handletextpad=0.65, labelspacing=0.045,
                borderaxespad=0.3, borderpad=0.1, prop={'size': 28.7})
for ln in leg.get_lines():
    ln.set_linewidth(1.3)

fig.savefig("out.png", dpi=100)
